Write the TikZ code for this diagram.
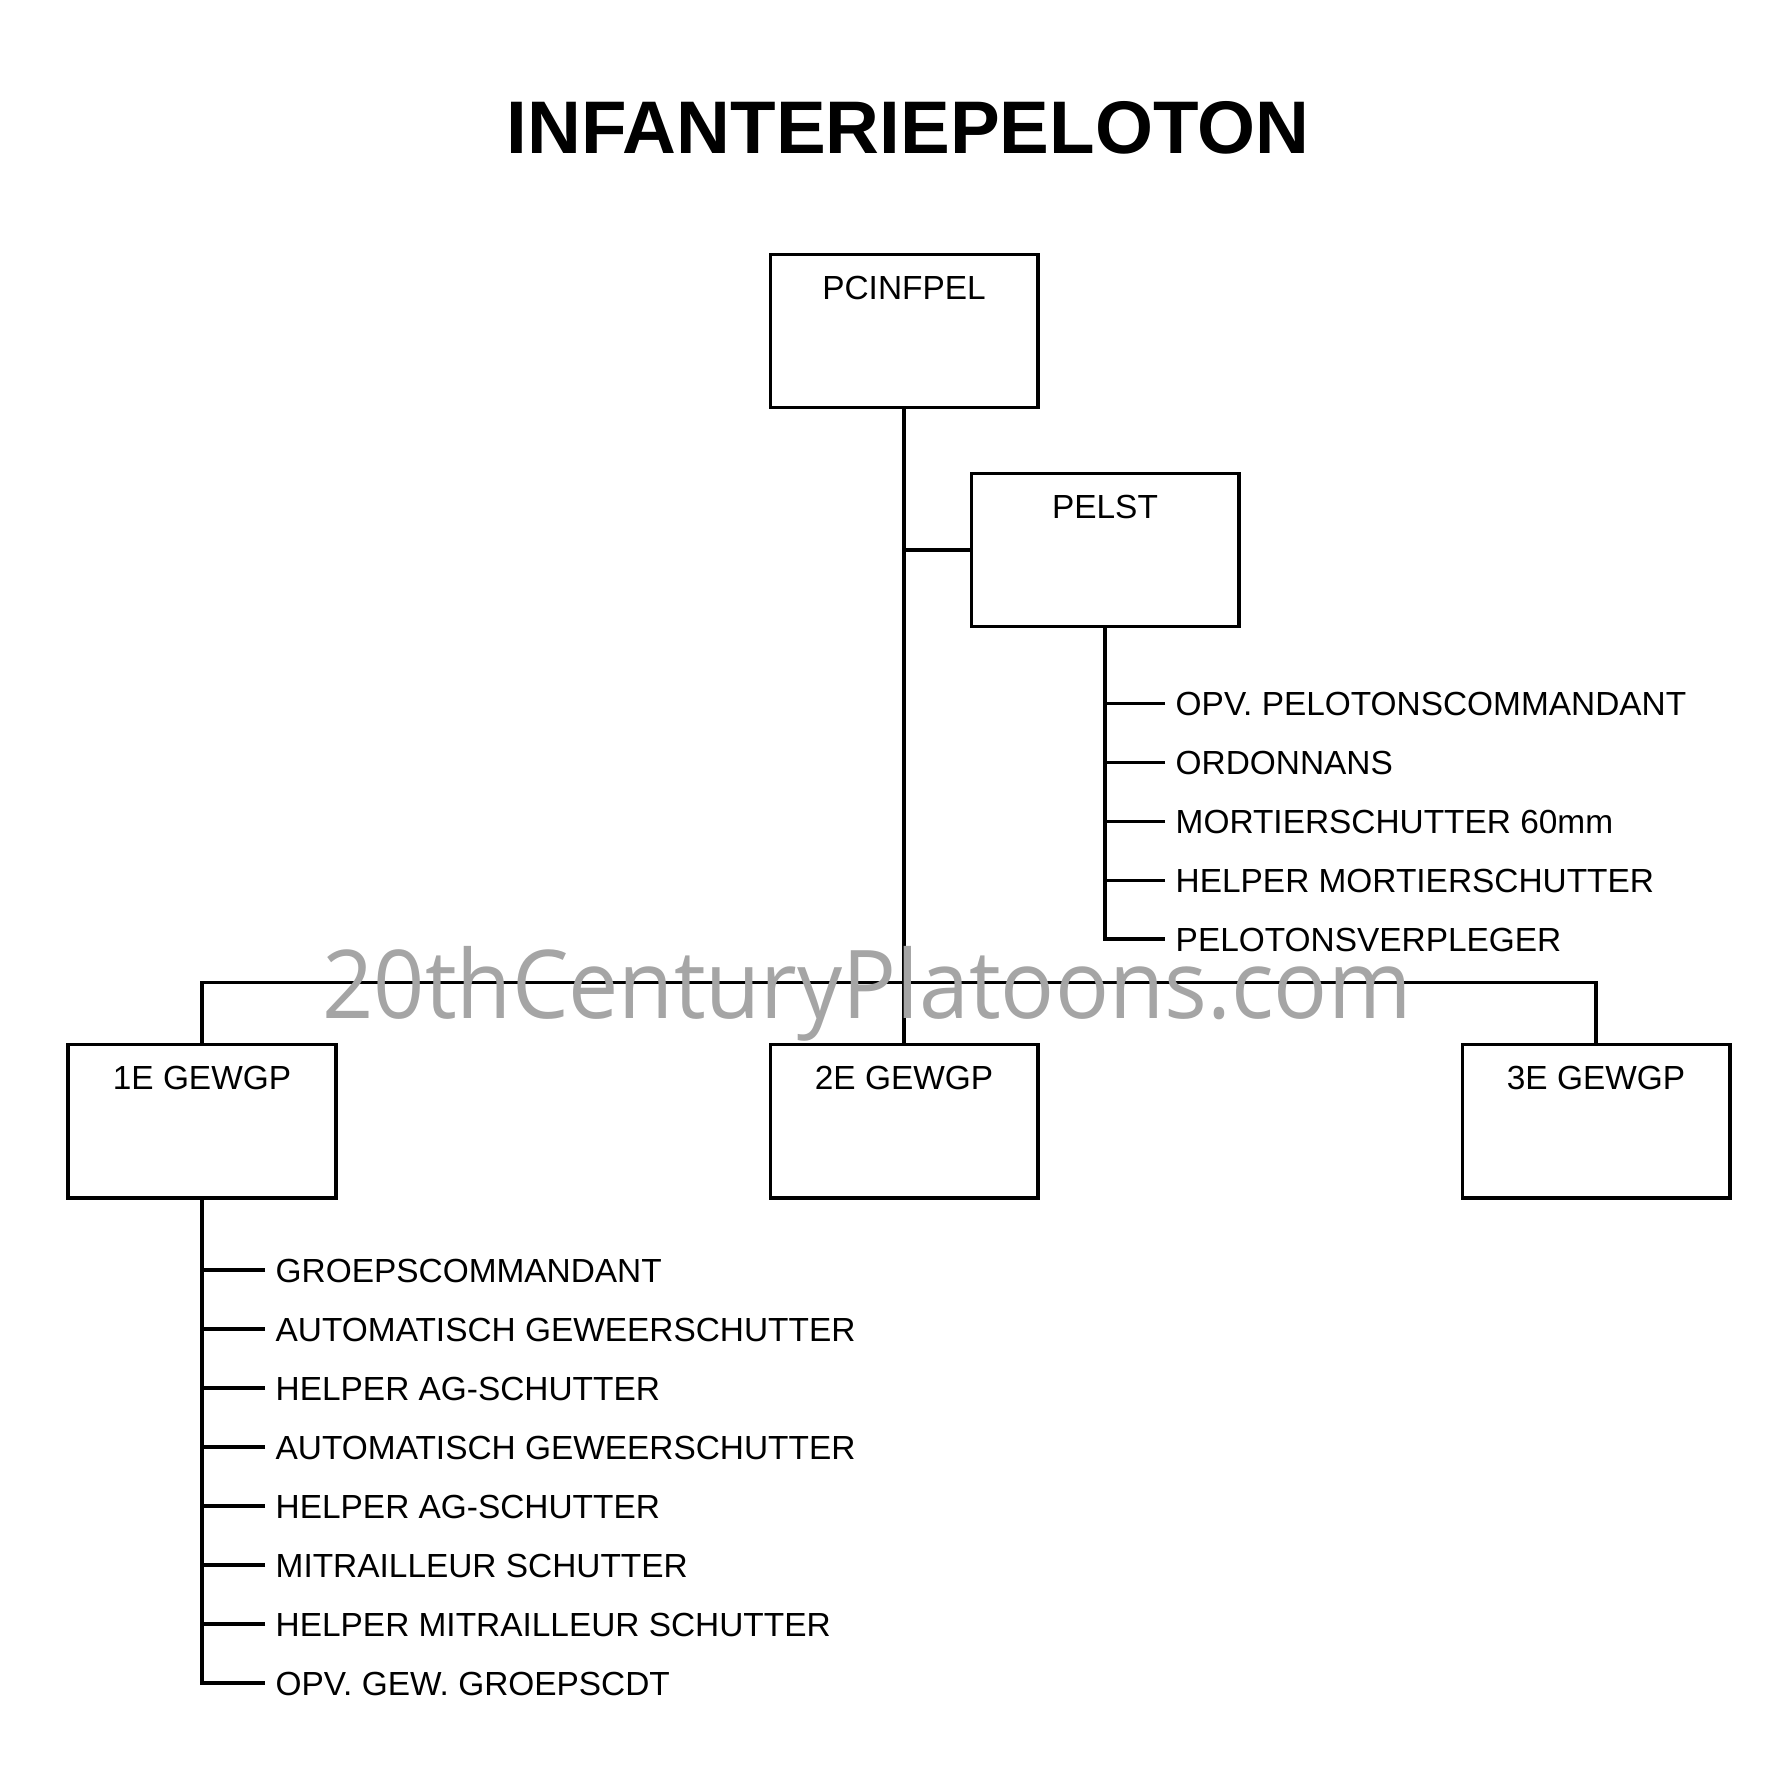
\documentclass[tikz,border=0pt]{standalone}
\usepackage{fontspec}
\setmainfont{Liberation Sans}
\newfontfamily\wmfont{Open Sans}
\usetikzlibrary{positioning}
\definecolor{wmGray}{RGB}{165,165,165}

\begin{document}
\begin{tikzpicture}[
  x=0.01cm, y=-0.01cm,
  font=\fontsize{9.5}{11}\selectfont,
  unit/.style={draw, line width=1.1pt, minimum width=2.67cm, inner sep=0pt, text height=0.45cm, text depth=1.08cm},
  role/.style={anchor=west, inner sep=0.1cm, text height=0.24cm, text depth=0pt},
  link/.style={line width=1pt},
]
\useasboundingbox (0,0) rectangle (1788,1769);
\node[font=\bfseries\fontsize{21.2}{24}\selectfont] (title) at (908,128) {INFANTERIEPELOTON};
% command
\node[unit] (pc) at (904,331) {PCINFPEL};
\node[unit] (pelst) at (1105,550) {PELST};
% groups
\node[unit] (g1) at (202,1121) {1E GEWGP};
\node[unit] (g2) at (904,1121) {2E GEWGP};
\node[unit] (g3) at (1596,1121) {3E GEWGP};
\draw[link] (pc) -- (g2);
\draw[link] (pelst.west) -- (pelst.west -| pc.south);
\draw[link] (g1.north) -- ++(0,-60) -| (g3.north);
% pelst staff
\foreach \t [count=\i] in {OPV. PELOTONSCOMMANDANT, ORDONNANS, MORTIERSCHUTTER 60mm, HELPER MORTIERSCHUTTER, PELOTONSVERPLEGER}
  \node[role] (s\i) at (1165,{644.7+58.9*\i}) {\t};
\draw[link] (pelst.south) |- (s5.west);
\foreach \i in {1,...,4} \draw[link] (s\i.west) -- (s\i.west -| pelst.south);
% 1e gewgp
\foreach \t [count=\i] in {GROEPSCOMMANDANT, AUTOMATISCH GEWEERSCHUTTER, HELPER AG-SCHUTTER, AUTOMATISCH GEWEERSCHUTTER, HELPER AG-SCHUTTER, MITRAILLEUR SCHUTTER, HELPER MITRAILLEUR SCHUTTER, OPV. GEW. GROEPSCDT}
  \node[role] (r\i) at (265,{1211+59*\i}) {\t};
\draw[link] (g1.south) |- (r8.west);
\foreach \i in {1,...,7} \draw[link] (r\i.west) -- (r\i.west -| g1.south);
% watermark
\node[text=wmGray, font=\wmfont\fontsize{27}{30}\selectfont, anchor=base, inner sep=0pt] (wm) at (867,1018) {\scalebox{0.945}[1]{20thCenturyPlatoons.com}};
\end{tikzpicture}
\end{document}
